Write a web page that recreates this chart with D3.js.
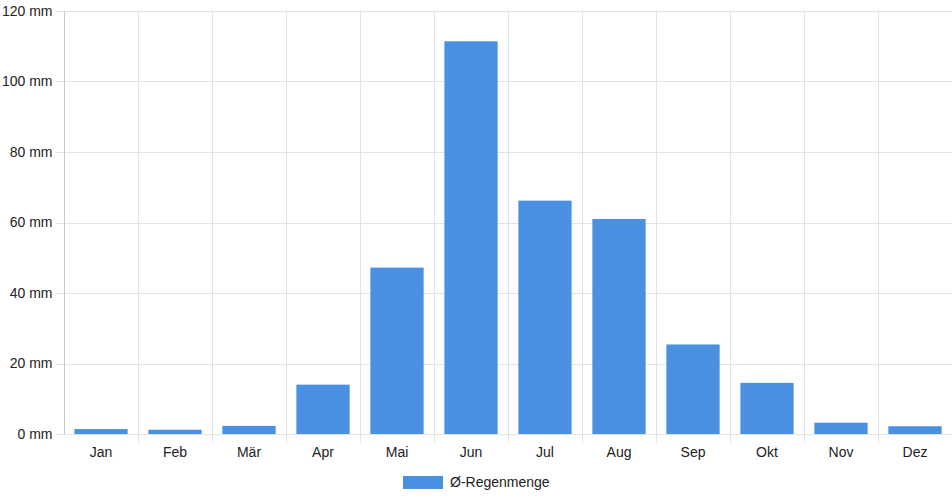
<!DOCTYPE html>
<html>
<head>
<meta charset="utf-8">
<script src="https://cdn.jsdelivr.net/npm/d3@7"></script>
<style>
  html, body { margin: 0; padding: 0; background: #fff; }
  svg { display: block; font-family: "Liberation Sans", Arial, Helvetica, sans-serif; }
</style>
</head>
<body>
<svg id="chart" width="952" height="500"></svg>
<script>
/* ---------- data ---------- */
const months   = ["Jan","Feb","Mär","Apr","Mai","Jun","Jul","Aug","Sep","Okt","Nov","Dez"];
const rainfall = [1.4, 1.2, 2.3, 14.0, 47.2, 111.4, 66.2, 61.0, 25.4, 14.5, 3.2, 2.2];
const yTicks   = [0, 20, 40, 60, 80, 100, 120];
const seriesName = "Ø-Regenmenge";

/* ---------- layout ---------- */
const W = 952, H = 500;
const m = { top: 11, right: 0, bottom: 66, left: 64 };
const svg = d3.select("#chart");

const x = d3.scaleBand()
  .domain(months)
  .range([m.left, W - m.right])
  .paddingInner(0).paddingOuter(0);

const y = d3.scaleLinear()
  .domain([0, 120])
  .range([H - m.bottom, m.top]);

const gridColor = "#e3e3e3";
const axisColor = "#c8c8c8";
const textColor = "#222";

/* ---------- grid ---------- */
const grid = svg.append("g");
grid.selectAll("line.h")
  .data(yTicks)
  .enter().append("line")
  .attr("class", "h")
  .attr("x1", m.left - 8).attr("x2", W - m.right)
  .attr("y1", d => Math.round(y(d)) + 0.5).attr("y2", d => Math.round(y(d)) + 0.5)
  .attr("stroke", gridColor);

grid.selectAll("line.v")
  .data(months.slice(1).concat(["_end"]))
  .enter().append("line")
  .attr("class", "v")
  .attr("x1", (d, i) => Math.round(x(months[0]) + (i + 1) * x.bandwidth()) + 0.5)
  .attr("x2", (d, i) => Math.round(x(months[0]) + (i + 1) * x.bandwidth()) + 0.5)
  .attr("y1", m.top).attr("y2", H - m.bottom + 9)
  .attr("stroke", gridColor);

/* ---------- bars ---------- */
const barW = x.bandwidth() * 0.72;
svg.append("g").selectAll("rect")
  .data(rainfall)
  .enter().append("rect")
  .attr("x", (d, i) => x(months[i]) + (x.bandwidth() - barW) / 2)
  .attr("y", d => y(d))
  .attr("width", barW)
  .attr("height", d => y(0) - y(d))
  .attr("fill", "#4a90e2");

/* ---------- axes ---------- */
const yAxis = svg.append("g")
  .attr("transform", `translate(${m.left + 0.5},0)`)
  .call(d3.axisLeft(y).tickValues(yTicks).tickSize(8).tickPadding(4)
        .tickFormat(d => d + " mm"));
yAxis.select(".domain").attr("stroke", axisColor).attr("d", `M0,${m.top}V${H - m.bottom}`);
yAxis.selectAll(".tick line").remove();
yAxis.selectAll("text").attr("fill", textColor).style("font-size", "14px")
  .attr("x", -12);

const xAxis = svg.append("g")
  .attr("transform", `translate(0,${Math.round(y(0)) + 0.5})`)
  .call(d3.axisBottom(x).tickSize(0).tickPadding(12));
xAxis.select(".domain").attr("stroke", gridColor).attr("d", `M${m.left},0H${W}`);
xAxis.selectAll("text").attr("fill", textColor).style("font-size", "14px")
  .attr("dy", "0.71em").attr("y", 13);
yAxis.raise();

/* ---------- legend ---------- */
const legend = svg.append("g").attr("transform", "translate(403,476)");
legend.append("rect")
  .attr("width", 40).attr("height", 13)
  .attr("fill", "#4a90e2");
legend.append("text")
  .attr("x", 47).attr("y", 6.5)
  .attr("dy", "0.35em")
  .attr("fill", textColor)
  .style("font-size", "14px")
  .text(seriesName);
</script>
</body>
</html>
